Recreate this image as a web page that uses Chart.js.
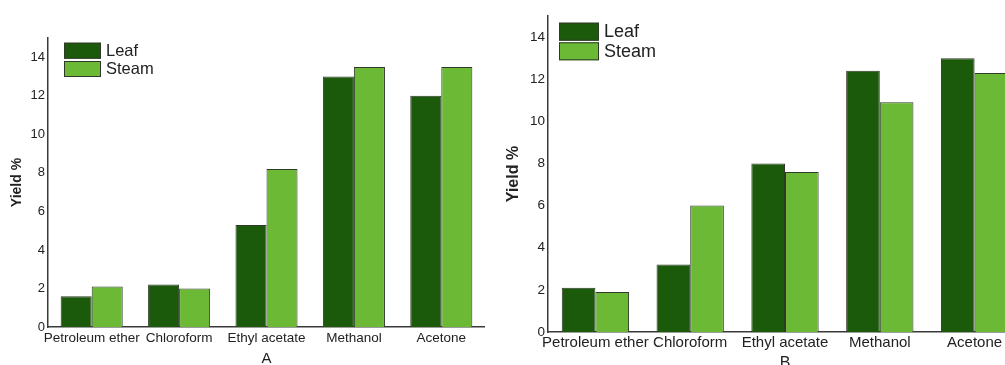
<!DOCTYPE html>
<html>
<head>
<meta charset="utf-8">
<script src="https://cdn.jsdelivr.net/npm/chart.js@4/dist/chart.umd.min.js"></script>
<style>
  html, body { margin: 0; padding: 0; background: #fff; width: 1005px; height: 365px; overflow: hidden; position: relative; }
  canvas { position: absolute; top: 0; }
  #chartA { left: 0; }
  #chartB { left: 500px; }
</style>
</head>
<body>
<canvas id="chartA" width="485" height="368"></canvas>
<canvas id="chartB" width="522" height="373"></canvas>
<script>
// Extraction yield (%) per solvent, for leaf and steam material
const categories = ['Petroleum ether', 'Chloroform', 'Ethyl acetate', 'Methanol', 'Acetone'];
const seriesNames = ['Leaf', 'Steam'];
const leafA  = [1.6, 2.2, 5.3, 13.0, 12.0];
const steamA = [2.1, 2.0, 8.2, 13.5, 13.5];
const leafB  = [2.1, 3.2, 8.0, 12.4, 13.0];
const steamB = [1.9, 6.0, 7.6, 10.9, 12.3];
const yTickValues = [0, 2, 4, 6, 8, 10, 12, 14];
const panelLabels = ['A', 'B'];

const DARK = '#1b5a0b';
const LIGHT = '#6bb935';
const EDGE = '#2f3a28';
const AXIS = '#3a3a3a';
const TEXT = '#222222';
const FONT = "'Liberation Sans', Arial, sans-serif";

// Stacked legend boxes drawn in the upper-left corner of the plot area
const stackLegend = {
  id: 'stackLegend',
  afterDraw(chart, args, opts) {
    const { ctx, chartArea } = chart;
    ctx.save();
    chart.data.datasets.forEach((ds, i) => {
      const x = chartArea.left + opts.dx;
      const y = chartArea.top + opts.dy + i * opts.step;
      ctx.fillStyle = ds.backgroundColor;
      ctx.fillRect(x, y, opts.w, opts.h);
      ctx.strokeStyle = EDGE;
      ctx.lineWidth = 1;
      ctx.strokeRect(x + 0.5, y + 0.5, opts.w - 1, opts.h - 1);
      ctx.fillStyle = TEXT;
      ctx.font = opts.size + 'px ' + FONT;
      ctx.textBaseline = 'middle';
      ctx.textAlign = 'left';
      ctx.fillText(ds.label, x + opts.w + 5, y + opts.h / 2 + 0.5);
    });
    ctx.restore();
  }
};

function makePanel(id, leaf, steam, p) {
  return new Chart(document.getElementById(id), {
    type: 'bar',
    data: {
      labels: categories,
      datasets: [
        { label: seriesNames[0], data: leaf, backgroundColor: DARK, borderColor: EDGE, borderWidth: 1 },
        { label: seriesNames[1], data: steam, backgroundColor: LIGHT, borderColor: EDGE, borderWidth: 1 }
      ]
    },
    plugins: [stackLegend],
    options: {
      responsive: false,
      animation: false,
      layout: { padding: { top: p.top, left: 0, right: 0, bottom: 0 } },
      datasets: { bar: { categoryPercentage: 0.71, barPercentage: 1.0 } },
      plugins: {
        legend: { display: false },
        tooltip: { enabled: false },
        stackLegend: p.legend
      },
      scales: {
        x: {
          grid: { display: false, drawTicks: false },
          border: { display: true, color: AXIS, width: 1.5 },
          ticks: { color: TEXT, font: { family: FONT, size: p.xTick }, padding: p.xPad, maxRotation: 0, autoSkip: false },
          title: { display: true, text: p.label, color: TEXT, font: { family: FONT, size: p.labelSize }, padding: { top: 0, bottom: 0 } },
          afterFit(scale) { scale.height = p.xHeight; }
        },
        y: {
          min: 0,
          max: 15,
          grid: { display: false, drawTicks: false },
          border: { display: true, color: AXIS, width: 1.5 },
          ticks: { color: TEXT, font: { family: FONT, size: p.yTick }, padding: 3 },
          afterBuildTicks(scale) { scale.ticks = yTickValues.map(v => ({ value: v })); },
          title: { display: true, text: 'Yield %', color: TEXT, font: { family: FONT, size: p.titleSize, weight: 'bold' }, padding: { top: p.titlePad, bottom: 0 } },
          afterFit(scale) { scale.width = p.yWidth; }
        }
      }
    }
  });
}

makePanel('chartA', leafA, steamA, {
  top: 38, xHeight: 41, yWidth: 48, xTick: 13.5, yTick: 13, xPad: 3,
  label: panelLabels[0], labelSize: 15,
  titleSize: 14, titlePad: 9,
  legend: { dx: 16, dy: 4.7, step: 18.3, w: 37, h: 16, size: 16.5 }
});

makePanel('chartB', leafB, steamB, {
  top: 16, xHeight: 41, yWidth: 48, xTick: 15, yTick: 13.5, xPad: 2,
  label: panelLabels[1], labelSize: 16,
  titleSize: 16, titlePad: 3.5,
  legend: { dx: 11, dy: 6.7, step: 19.6, w: 40, h: 18, size: 18 }
});
</script>
</body>
</html>
